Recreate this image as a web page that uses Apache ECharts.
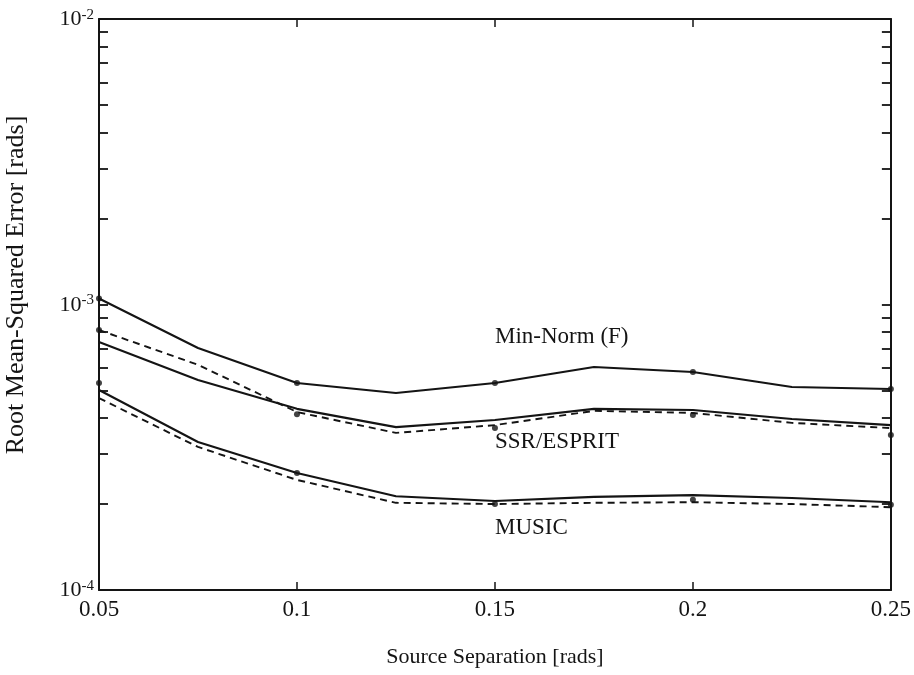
<!DOCTYPE html>
<html>
<head>
<meta charset="utf-8">
<script src="https://cdn.jsdelivr.net/npm/echarts@6/dist/echarts.min.js"></script>
<style>html,body{margin:0;padding:0;background:#fff}#c{width:914px;height:675px}</style>
</head>
<body>
<div id="c"></div>
<script>
// ---- data ----
const separations = [0.05, 0.075, 0.1, 0.125, 0.15, 0.175, 0.2, 0.225, 0.25];
const minNormTheory = [1.05e-3, 7.04e-4, 5.31e-4, 4.90e-4, 5.31e-4, 6.04e-4, 5.80e-4, 5.14e-4, 5.06e-4];
const ssrSolid      = [7.39e-4, 5.44e-4, 4.31e-4, 3.72e-4, 3.94e-4, 4.31e-4, 4.27e-4, 3.97e-4, 3.78e-4];
const ssrDashed     = [8.14e-4, 6.15e-4, 4.20e-4, 3.55e-4, 3.78e-4, 4.24e-4, 4.17e-4, 3.85e-4, 3.69e-4];
const musicSolid    = [5.02e-4, 3.30e-4, 2.57e-4, 2.13e-4, 2.05e-4, 2.12e-4, 2.15e-4, 2.10e-4, 2.03e-4];
const musicDashed   = [4.70e-4, 3.17e-4, 2.43e-4, 2.02e-4, 2.00e-4, 2.02e-4, 2.03e-4, 2.00e-4, 1.95e-4];

const simSeparations = [0.05, 0.1, 0.15, 0.2, 0.25];
const minNormSim = [1.05e-3, 5.31e-4, 5.31e-4, 5.80e-4, 5.06e-4];
const ssrSim     = [8.14e-4, 4.13e-4, 3.69e-4, 4.10e-4, 3.49e-4];
const musicSim   = [5.31e-4, 2.57e-4, 2.00e-4, 2.07e-4, 1.99e-4];

const yTickValues = [1e-4,2e-4,3e-4,4e-4,5e-4,6e-4,7e-4,8e-4,9e-4,1e-3,2e-3,3e-3,4e-3,5e-3,6e-3,7e-3,8e-3,9e-3,1e-2];
const yLabelValues = [1e-4, 1e-3, 1e-2];

const xTitle = 'Source Separation [rads]';
const yTitle = 'Root Mean-Squared Error [rads]';
const curveLabels = [
  {text: 'Min-Norm (F)', left: 495, top: 325},
  {text: 'SSR/ESPRIT', left: 495, top: 430},
  {text: 'MUSIC', left: 495, top: 516}
];

// ---- chart ----
const FONT = '"Liberation Serif", "DejaVu Serif", serif';
const INK = '#141414';
const pair = (xs, ys) => xs.map((x, i) => [x, ys[i]]);
const chart = echarts.init(document.getElementById('c'), null, {renderer: 'canvas'});

const lineSeries = (data, dashed) => ({
  type: 'line', data: pair(separations, data), showSymbol: false, symbol: 'none',
  lineStyle: {color: INK, width: dashed ? 1.9 : 2.1, type: dashed ? [7, 5] : 'solid'},
  silent: true, animation: false, z: 3
});
const simSeries = (data) => ({
  type: 'scatter', data: pair(simSeparations, data), symbol: 'circle', symbolSize: 6,
  itemStyle: {color: INK}, silent: true, animation: false, z: 4
});

const axisLineStyle = {lineStyle: {color: INK, width: 2}};

chart.setOption({
  backgroundColor: '#ffffff',
  animation: false,
  grid: {left: 99, right: 21, top: 19, bottom: 85, containLabel: false},
  xAxis: [
    {
      type: 'value', min: 0.05, max: 0.25, interval: 0.05, position: 'bottom',
      axisLine: axisLineStyle,
      axisTick: {show: true, inside: true, length: 8, lineStyle: {color: INK, width: 1.5}},
      axisLabel: {
        color: INK, fontFamily: FONT, fontSize: 23, margin: 8,
        formatter: v => String(+v.toFixed(2)), showMinLabel: true, showMaxLabel: true
      },
      splitLine: {show: false},
      name: xTitle, nameLocation: 'middle', nameGap: 56,
      nameTextStyle: {color: INK, fontFamily: FONT, fontSize: 22}
    },
    {
      type: 'value', min: 0.05, max: 0.25, interval: 0.05, position: 'top',
      axisLine: axisLineStyle,
      axisTick: {show: true, inside: true, length: 8, lineStyle: {color: INK, width: 1.5}},
      axisLabel: {show: false}, splitLine: {show: false}
    }
  ],
  yAxis: [
    {
      type: 'log', logBase: 10, min: 1e-4, max: 1e-2, position: 'left',
      axisLine: {show: true, ...axisLineStyle},
      axisTick: {show: true, inside: true, length: 9, customValues: yTickValues,
                 lineStyle: {color: INK, width: 1.8}},
      minorTick: {show: false},
      axisLabel: {
        margin: 5, fontFamily: FONT, color: INK,
        customValues: yLabelValues,
        formatter: v => '{a|10}{b|' + Math.round(Math.log10(v)) + '}',
        rich: {
          a: {fontFamily: FONT, fontSize: 22, color: INK, verticalAlign: 'bottom'},
          b: {fontFamily: FONT, fontSize: 15, color: INK, verticalAlign: 'top', padding: [0, 0, 8, 0]}
        }
      },
      splitLine: {show: false}
    },
    {
      type: 'log', logBase: 10, min: 1e-4, max: 1e-2, position: 'right',
      axisLine: {show: true, ...axisLineStyle},
      axisTick: {show: true, inside: true, length: 9, customValues: yTickValues,
                 lineStyle: {color: INK, width: 1.8}},
      axisLabel: {show: false}, splitLine: {show: false}
    }
  ],
  series: [
    lineSeries(minNormTheory, false),
    lineSeries(ssrSolid, false),
    lineSeries(ssrDashed, true),
    lineSeries(musicSolid, false),
    lineSeries(musicDashed, true),
    simSeries(minNormSim),
    simSeries(ssrSim),
    simSeries(musicSim)
  ],
  graphic: curveLabels.map(l => ({
    type: 'text', left: l.left, top: l.top, silent: true,
    style: {text: l.text, fill: INK, font: '23px ' + FONT}
  })).concat([{
    type: 'text', x: 16, y: 285, rotation: Math.PI / 2, silent: true,
    style: {text: yTitle, fill: INK, font: '26px ' + FONT, textAlign: 'center', textVerticalAlign: 'middle'}
  }])
});
</script>
</body>
</html>
